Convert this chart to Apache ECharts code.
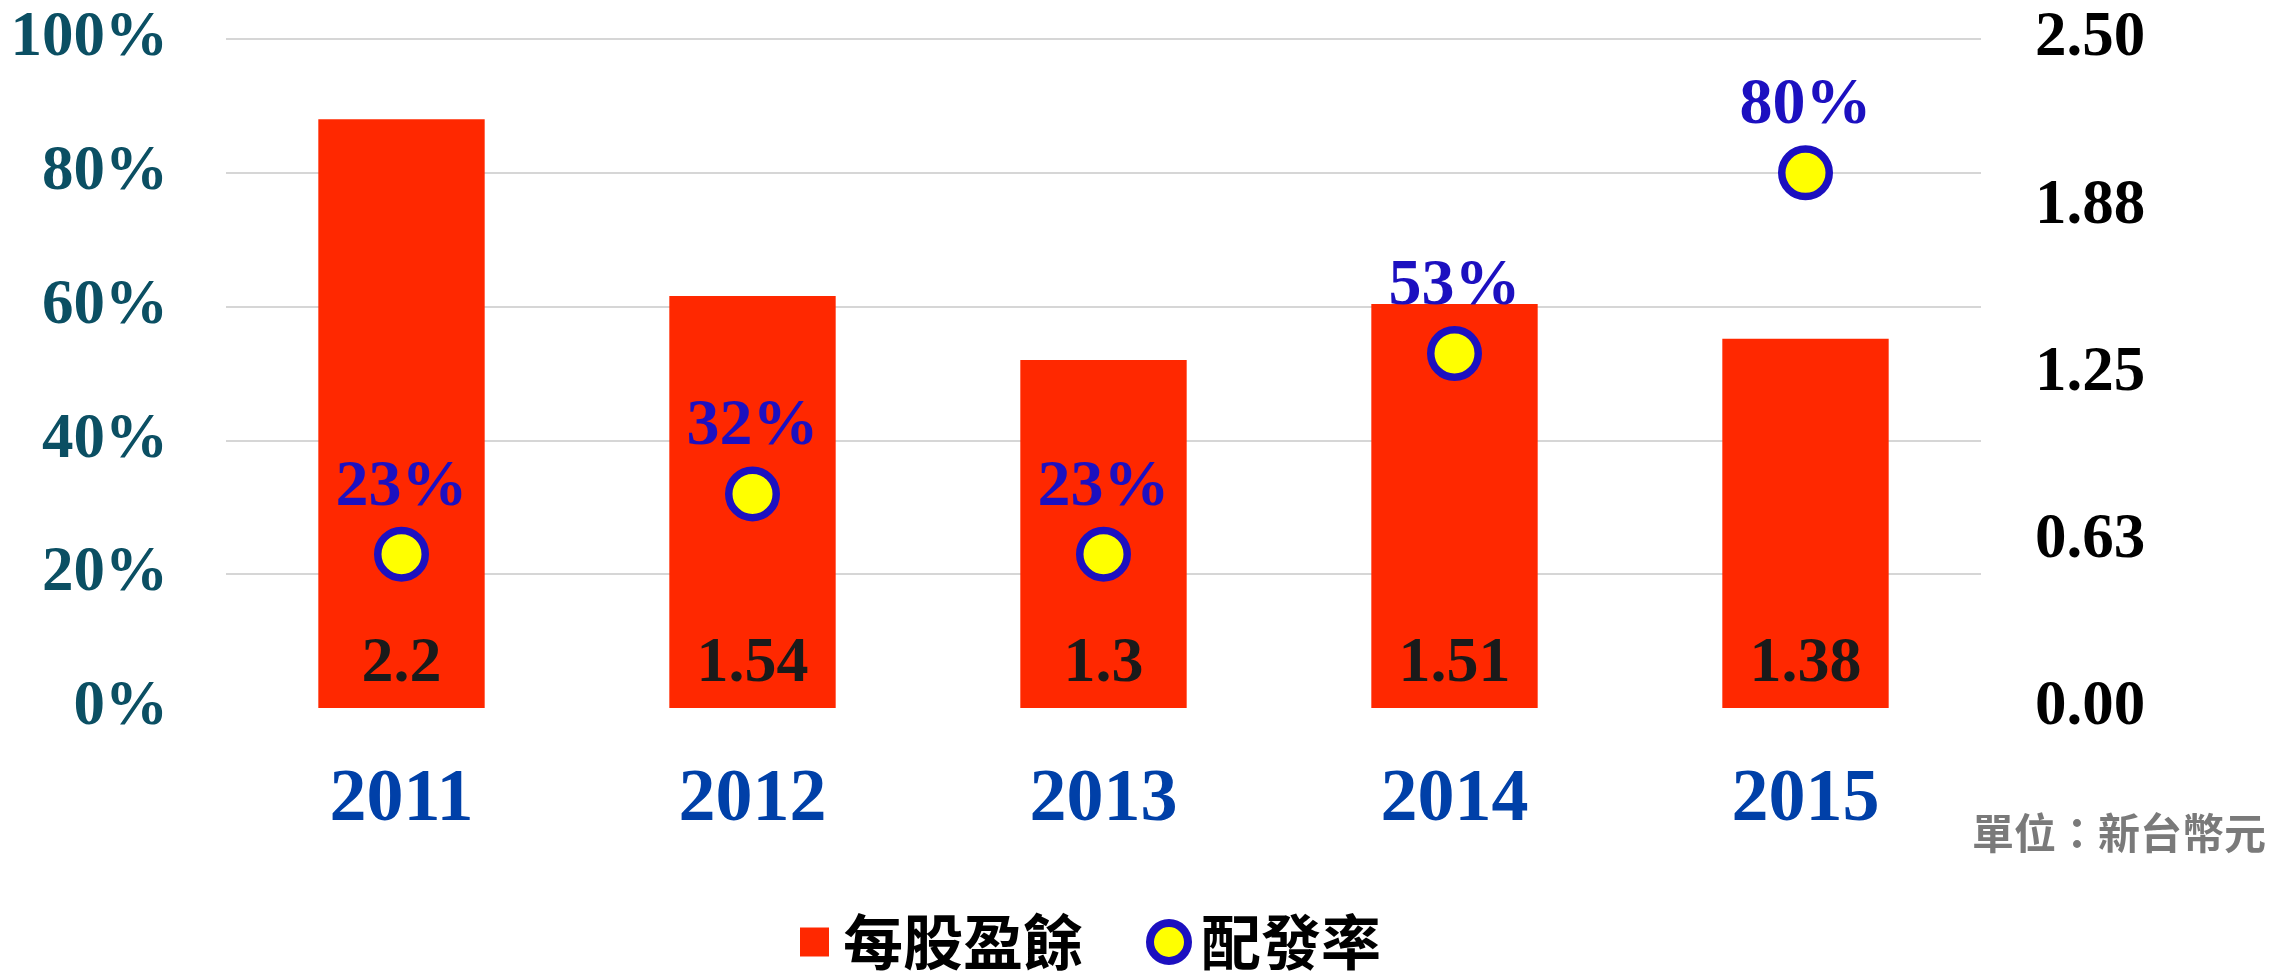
<!DOCTYPE html>
<html>
<head>
<meta charset="utf-8">
<script src="https://cdn.jsdelivr.net/npm/echarts@6/dist/echarts.min.js"></script>
<style>
html,body{margin:0;padding:0;background:#fff;}
#main{width:2270px;height:975px;}
</style>
</head>
<body>
<div id="main"></div>
<script>
var years = ['2011', '2012', '2013', '2014', '2015'];
var eps = [2.2, 1.54, 1.3, 1.51, 1.38];
var payout = [23, 32, 23, 53, 80];
var leftTicks = [0, 20, 40, 60, 80, 100];
var rightTicks = [0, 0.625, 1.25, 1.875, 2.5];
var epsName = '每股盈餘';
var payoutName = '配發率';
var unitText = '單位：新台幣元';

var serif = '"Liberation Serif", "Times New Roman", serif';
var cjk = '"Noto Sans CJK TC", "Noto Sans CJK SC", sans-serif';

var chart = echarts.init(document.getElementById('main'));
chart.setOption({
  backgroundColor: '#ffffff',
  animation: false,
  grid: { left: 226, right: 289, top: 39, bottom: 267 },
  xAxis: {
    type: 'category',
    data: years,
    axisLine: { show: false },
    axisTick: { show: false },
    axisLabel: {
      margin: 56,
      fontFamily: serif, fontWeight: 'bold', fontSize: 74, color: '#0040a8'
    }
  },
  yAxis: [
    {
      type: 'value',
      min: leftTicks[0], max: leftTicks[leftTicks.length - 1],
      interval: leftTicks[1] - leftTicks[0],
      axisLine: { show: false }, axisTick: { show: false },
      splitLine: { show: true, showMinLine: false, lineStyle: { color: '#d6d6d6', width: 2 } },
      axisLabel: {
        margin: 58, formatter: '{value}%',
        fontFamily: serif, fontWeight: 'bold', fontSize: 63, color: '#0b4f63'
      }
    },
    {
      type: 'value',
      min: rightTicks[0], max: rightTicks[rightTicks.length - 1],
      interval: rightTicks[1] - rightTicks[0],
      axisLine: { show: false }, axisTick: { show: false },
      splitLine: { show: false },
      axisLabel: {
        margin: 54,
        formatter: function (v) { return v.toFixed(2); },
        fontFamily: serif, fontWeight: 'bold', fontSize: 63, color: '#000000'
      }
    }
  ],
  legend: [
    {
      left: 800, top: 912, padding: 0,
      data: [epsName],
      icon: 'rect',
      itemWidth: 29, itemHeight: 29,
      itemStyle: { borderWidth: 0 },
      textStyle: { fontFamily: cjk, fontWeight: 'bold', fontSize: 60, lineHeight: 60, color: '#000', padding: [0, 0, 0, 9] }
    },
    {
      left: 1146, top: 912, padding: 0,
      data: [payoutName],
      icon: 'circle',
      itemWidth: 38, itemHeight: 38,
      itemStyle: { color: '#ffff00', borderColor: '#1c10c0', borderWidth: 8 },
      textStyle: { fontFamily: cjk, fontWeight: 'bold', fontSize: 60, lineHeight: 60, color: '#000', padding: [0, 0, 0, 8] }
    }
  ],
  graphic: [
    {
      type: 'text',
      right: 4, top: 812,
      style: { text: unitText, fontFamily: cjk, fontWeight: 'bold', fontSize: 42, fill: '#7a7a7a' }
    }
  ],
  series: [
    {
      name: epsName,
      type: 'bar',
      yAxisIndex: 1,
      data: eps,
      barWidth: '47.4%',
      itemStyle: { color: '#ff2800' },
      label: {
        show: true, position: 'insideBottom', distance: 12,
        fontFamily: serif, fontWeight: 'bold', fontSize: 64, color: '#1a1a1a'
      },
      z: 2
    },
    {
      name: payoutName,
      type: 'scatter',
      yAxisIndex: 0,
      data: payout,
      symbol: 'circle',
      symbolSize: 47.5,
      itemStyle: { color: '#ffff00', borderColor: '#1c10c0', borderWidth: 7.5, opacity: 1 },
      label: {
        show: true, position: 'top', distance: 6,
        formatter: '{c}%',
        fontFamily: serif, fontWeight: 'bold', fontSize: 66, color: '#1c10c0'
      },
      z: 3
    }
  ]
});
</script>
</body>
</html>
